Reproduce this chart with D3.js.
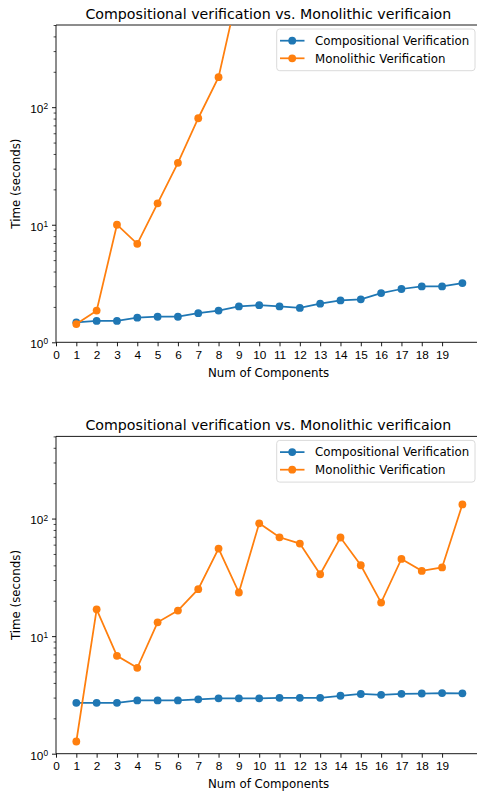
<!DOCTYPE html>
<html>
<head>
  <meta charset="utf-8">
  <title>Compositional vs. Monolithic verification</title>
  <script src="https://d3js.org/d3.v7.min.js"></script>
  <style>
    html, body { margin: 0; padding: 0; background: #fff; }
    svg { display: block; font-family: "DejaVu Sans", sans-serif; }
    .tick text { font-size: 11.8px; fill: #000; }
  </style>
</head>
<body>
  <svg id="chart" width="477" height="794"></svg>
  <script>
    // data
    const components = [1, 2, 3, 4, 5, 6, 7, 8, 9, 10, 11, 12, 13, 14, 15, 16, 17, 18, 19, 20];
    const xTickValues = [0, 1, 2, 3, 4, 5, 6, 7, 8, 9, 10, 11, 12, 13, 14, 15, 16, 17, 18, 19];
    const seriesNames = ["Compositional Verification", "Monolithic Verification"];
    const titleText = "Compositional verification vs. Monolithic verificaion";

    // top panel (monolithic runs off the top after 9 components)
    const compTop = [1.48, 1.52, 1.52, 1.62, 1.65, 1.65, 1.77, 1.86, 2.02, 2.07,
                     2.02, 1.96, 2.13, 2.27, 2.32, 2.62, 2.84, 2.99, 2.99, 3.19];
    const monoTop = [1.43, 1.86, 10.0, 6.88, 15.2, 33.6, 80.5, 180, 1050];

    // bottom panel
    const compBottom = [2.71, 2.71, 2.71, 2.84, 2.84, 2.84, 2.90, 2.96, 2.96, 2.96,
                        2.99, 2.99, 2.99, 3.11, 3.22, 3.17, 3.23, 3.25, 3.28, 3.26];
    const monoBottom = [1.27, 16.9, 6.8, 5.38, 13.1, 16.5, 25.1, 55.6, 23.5, 91.2,
                        69.3, 61.3, 33.6, 69.0, 40.1, 19.3, 45.4, 35.9, 38.4, 132];

    const colors = ["#1f77b4", "#ff7f0e"];
    const svg = d3.select("#chart");

    const left = 56, xUnit = 20.32;
    const xDomain = [0, 21];
    const yDomain = [1, 500];
    const plotH = 317.3;

    function drawPanel(top, comp, mono, id) {
      const bottom = top + plotH;
      const right = left + xUnit * (xDomain[1] - xDomain[0]);

      const x = d3.scaleLinear().domain(xDomain).range([left, right]);
      const y = d3.scaleLog().domain(yDomain).range([bottom, top]);

      const g = svg.append("g");

      g.append("clipPath").attr("id", "clip" + id)
        .append("rect")
        .attr("x", left).attr("y", top)
        .attr("width", right - left).attr("height", plotH);

      // x axis
      const xAxis = g.append("g")
        .attr("transform", `translate(0,${bottom})`)
        .call(d3.axisBottom(x).tickValues(xTickValues).tickSize(4).tickPadding(4).tickSizeOuter(0));
      xAxis.select(".domain").remove();
      xAxis.selectAll(".tick line").attr("stroke", "#000").attr("stroke-width", 0.9);

      // y axis: minor ticks
      const minor = [];
      [1, 10, 100].forEach(d => { for (let k = 2; k <= 9; k++) if (d * k <= 500) minor.push(d * k); });
      const yMinor = g.append("g")
        .attr("transform", `translate(${left},0)`)
        .call(d3.axisLeft(y).tickValues(minor).tickSize(2.4).tickFormat(""));
      yMinor.select(".domain").remove();
      yMinor.selectAll(".tick line").attr("stroke", "#000").attr("stroke-width", 0.7);

      // y axis: major ticks with 10^n labels
      const yMajor = g.append("g")
        .attr("transform", `translate(${left},0)`)
        .call(d3.axisLeft(y).tickValues([1, 10, 100]).tickSize(4).tickPadding(4).tickFormat(""));
      yMajor.select(".domain").remove();
      yMajor.selectAll(".tick line").attr("stroke", "#000").attr("stroke-width", 0.9);
      yMajor.selectAll(".tick").each(function (d) {
        const t = d3.select(this).select("text")
          .attr("x", -8).attr("dy", "0.45em").attr("text-anchor", "end");
        t.append("tspan").text("10");
        t.append("tspan").attr("dy", "-0.45em").attr("font-size", "8.3px")
          .text(Math.round(Math.log10(d)));
      });

      // spines
      const spine = g.append("g").attr("stroke", "#000").attr("stroke-width", 0.9);
      spine.append("line").attr("x1", left).attr("x2", left).attr("y1", top).attr("y2", bottom);
      spine.append("line").attr("x1", left).attr("x2", right).attr("y1", top).attr("y2", top);
      spine.append("line").attr("x1", left).attr("x2", right).attr("y1", bottom).attr("y2", bottom);
      spine.append("line").attr("x1", right).attr("x2", right).attr("y1", top).attr("y2", bottom);

      // series
      const plot = g.append("g").attr("clip-path", `url(#clip${id})`);
      const line = d3.line().x(d => x(d[0])).y(d => y(d[1]));
      [comp, mono].forEach((vals, i) => {
        const pts = vals.map((v, j) => [components[j], v]);
        plot.append("path").datum(pts)
          .attr("fill", "none").attr("stroke", colors[i]).attr("stroke-width", 1.75)
          .attr("d", line);
        plot.selectAll(null).data(pts).enter().append("circle")
          .attr("cx", d => x(d[0])).attr("cy", d => y(d[1])).attr("r", 3.9)
          .attr("fill", colors[i]);
      });

      // title
      g.append("text")
        .attr("x", (left + right) / 2 - 1).attr("y", top - 6.5)
        .attr("text-anchor", "middle").attr("font-size", "14.2px").attr("fill", "#000")
        .text(titleText);

      // axis labels
      g.append("text")
        .attr("x", (left + right) / 2 - 0.8).attr("y", bottom + 34.5)
        .attr("text-anchor", "middle").attr("font-size", "11.8px").attr("fill", "#000")
        .text("Num of Components");
      g.append("text")
        .attr("transform", `translate(19.5,${(top + bottom) / 2}) rotate(-90)`)
        .attr("text-anchor", "middle").attr("font-size", "11.8px").attr("fill", "#000")
        .text("Time (seconds)");

      // legend
      const lg = g.append("g");
      lg.append("rect")
        .attr("x", 276.7).attr("y", top + 4).attr("width", 198.3).attr("height", 41.7)
        .attr("rx", 3).attr("fill", "#fff").attr("fill-opacity", 0.8)
        .attr("stroke", "#d6d6d6").attr("stroke-width", 0.9);
      seriesNames.forEach((name, i) => {
        const cy = top + 15.7 + i * 17.6;
        lg.append("line").attr("x1", 280).attr("x2", 304.5).attr("y1", cy).attr("y2", cy)
          .attr("stroke", colors[i]).attr("stroke-width", 1.75);
        lg.append("circle").attr("cx", 292.2).attr("cy", cy).attr("r", 3.9).attr("fill", colors[i]);
        lg.append("text").attr("x", 315).attr("y", cy + 4.3)
          .attr("font-size", "11.8px").attr("fill", "#000").text(name);
      });
    }

    drawPanel(25, compTop, monoTop, 1);
    drawPanel(436.4, compBottom, monoBottom, 2);
  </script>
</body>
</html>
